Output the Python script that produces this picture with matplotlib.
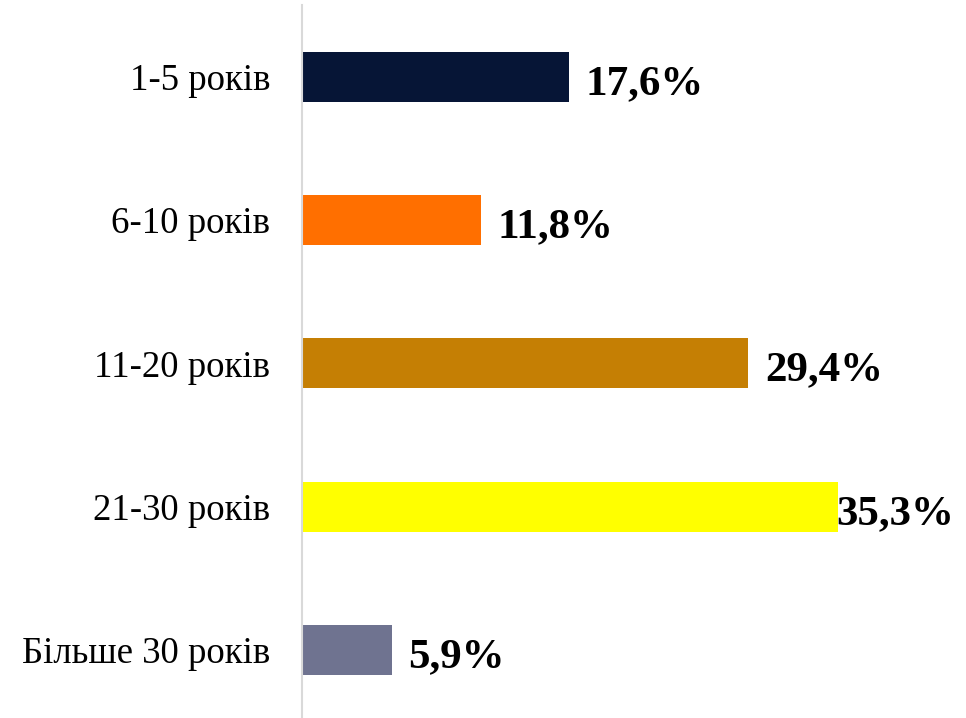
import matplotlib.pyplot as plt

# Data
categories = ["1-5 років", "6-10 років", "11-20 років", "21-30 років", "Більше 30 років"]
values = [17.6, 11.8, 29.4, 35.3, 5.9]
colors = ["#061536", "#FF6F00", "#C57F04", "#FFFF00", "#6F7390"]
value_labels = ["17,6%", "11,8%", "29,4%", "35,3%", "5,9%"]

plt.rcParams['font.family'] = ['Liberation Serif', 'DejaVu Serif']

fig = plt.figure(figsize=(9.66, 7.18), dpi=100)
ax = fig.add_axes([0.3126, -0.005, 0.66, 0.998])

y = range(len(categories))
ax.barh(y, values, height=0.35, color=colors)
ax.set_ylim(len(categories) - 0.5, -0.5)
ax.set_xlim(0, 42)

ax.set_yticks(list(y))
ax.set_yticklabels(categories, fontsize=26.5)
ax.tick_params(axis='y', length=0, pad=23)
ax.set_xticks([])

for s in ["top", "right", "bottom"]:
    ax.spines[s].set_visible(False)
ax.spines["left"].set_color("#d9d9d9")
ax.spines["left"].set_linewidth(1.5)

# value labels, keep the last one inside the figure like the original
for i, (v, lab) in enumerate(zip(values, value_labels)):
    x = min(v + 1.1, 35.2)
    ax.text(x, i + 0.02, lab, va='center_baseline', ha='left',
            fontsize=31, fontweight='bold')

fig.savefig("out.png", dpi=100)
